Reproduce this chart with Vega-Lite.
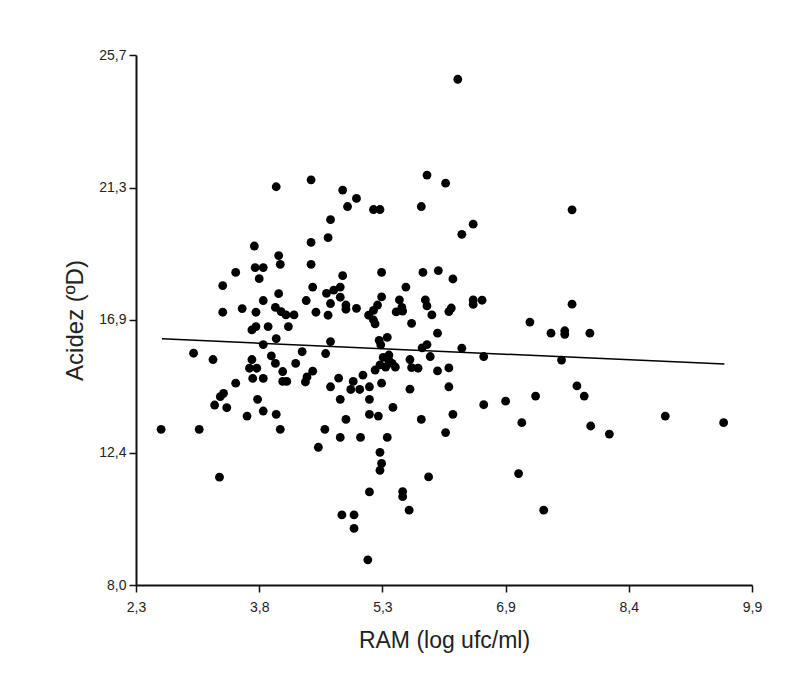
{
  "$schema": "https://vega.github.io/schema/vega-lite/v6.json",
  "autosize": "none",
  "width": 616,
  "height": 530,
  "padding": {"left": 136, "top": 55, "right": 38, "bottom": 105},
  "background": "white",
  "config": {
    "view": {"stroke": null},
    "font": "Liberation Sans",
    "axis": {
      "grid": false,
      "domainColor": "#111",
      "domainWidth": 2,
      "tickColor": "#111",
      "tickWidth": 1.5,
      "tickSize": 7,
      "labelFont": "Liberation Sans",
      "labelFontSize": 14,
      "labelColor": "#222",
      "titleFont": "Liberation Sans",
      "titleFontWeight": "normal",
      "titleColor": "#222",
      "labelFlush": false,
      "labelOverlap": false
    }
  },
  "datasets": {
    "pts": [
      {"ram": 6.27, "acidez": 24.89}, {"ram": 4.03, "acidez": 21.30}, {"ram": 4.46, "acidez": 21.53}, {"ram": 4.85, "acidez": 21.19},
      {"ram": 5.02, "acidez": 20.91}, {"ram": 4.91, "acidez": 20.64}, {"ram": 5.23, "acidez": 20.54}, {"ram": 5.31, "acidez": 20.54},
      {"ram": 4.70, "acidez": 20.20}, {"ram": 4.67, "acidez": 19.60}, {"ram": 4.46, "acidez": 19.44}, {"ram": 3.76, "acidez": 19.32},
      {"ram": 4.06, "acidez": 19.00}, {"ram": 4.08, "acidez": 18.71}, {"ram": 4.46, "acidez": 18.71}, {"ram": 3.53, "acidez": 18.44},
      {"ram": 3.77, "acidez": 18.60}, {"ram": 3.87, "acidez": 18.60}, {"ram": 3.82, "acidez": 18.23}, {"ram": 5.33, "acidez": 18.44},
      {"ram": 4.85, "acidez": 18.33}, {"ram": 3.37, "acidez": 18.00}, {"ram": 4.48, "acidez": 17.95}, {"ram": 4.06, "acidez": 17.73},
      {"ram": 4.65, "acidez": 17.74}, {"ram": 4.74, "acidez": 17.85}, {"ram": 4.82, "acidez": 17.95}, {"ram": 4.82, "acidez": 17.61},
      {"ram": 5.33, "acidez": 17.62}, {"ram": 5.89, "acidez": 21.69}, {"ram": 6.12, "acidez": 21.42}, {"ram": 5.82, "acidez": 20.64},
      {"ram": 6.46, "acidez": 20.05}, {"ram": 6.32, "acidez": 19.71}, {"ram": 7.68, "acidez": 20.53}, {"ram": 5.84, "acidez": 18.44},
      {"ram": 6.03, "acidez": 18.50}, {"ram": 6.21, "acidez": 18.22}, {"ram": 5.63, "acidez": 17.95}, {"ram": 3.87, "acidez": 17.50},
      {"ram": 4.40, "acidez": 17.50}, {"ram": 4.70, "acidez": 17.40}, {"ram": 4.89, "acidez": 17.35}, {"ram": 4.89, "acidez": 17.21},
      {"ram": 5.02, "acidez": 17.24}, {"ram": 5.28, "acidez": 17.35}, {"ram": 5.23, "acidez": 17.17}, {"ram": 5.17, "acidez": 17.01},
      {"ram": 5.23, "acidez": 16.85}, {"ram": 5.25, "acidez": 16.72}, {"ram": 3.37, "acidez": 17.11}, {"ram": 3.61, "acidez": 17.23},
      {"ram": 3.78, "acidez": 17.11}, {"ram": 4.02, "acidez": 17.27}, {"ram": 4.09, "acidez": 17.13}, {"ram": 4.15, "acidez": 17.02},
      {"ram": 4.25, "acidez": 17.02}, {"ram": 4.52, "acidez": 17.11}, {"ram": 4.67, "acidez": 17.01}, {"ram": 5.51, "acidez": 17.12},
      {"ram": 5.55, "acidez": 17.52}, {"ram": 5.59, "acidez": 17.15}, {"ram": 5.58, "acidez": 17.27}, {"ram": 5.87, "acidez": 17.52},
      {"ram": 5.89, "acidez": 17.32}, {"ram": 5.95, "acidez": 17.02}, {"ram": 6.16, "acidez": 17.13}, {"ram": 6.19, "acidez": 17.25},
      {"ram": 6.46, "acidez": 17.52}, {"ram": 6.46, "acidez": 17.37}, {"ram": 6.57, "acidez": 17.51}, {"ram": 7.68, "acidez": 17.38},
      {"ram": 5.70, "acidez": 16.74}, {"ram": 7.16, "acidez": 16.78}, {"ram": 3.73, "acidez": 16.52}, {"ram": 3.78, "acidez": 16.63},
      {"ram": 3.93, "acidez": 16.63}, {"ram": 4.18, "acidez": 16.63}, {"ram": 3.87, "acidez": 16.03}, {"ram": 4.03, "acidez": 16.23},
      {"ram": 4.70, "acidez": 16.13}, {"ram": 5.30, "acidez": 16.17}, {"ram": 5.40, "acidez": 16.27}, {"ram": 5.32, "acidez": 16.02},
      {"ram": 6.02, "acidez": 16.41}, {"ram": 5.83, "acidez": 15.92}, {"ram": 5.89, "acidez": 16.03}, {"ram": 6.32, "acidez": 15.91},
      {"ram": 7.42, "acidez": 16.41}, {"ram": 7.59, "acidez": 16.49}, {"ram": 7.59, "acidez": 16.37}, {"ram": 7.90, "acidez": 16.41},
      {"ram": 3.01, "acidez": 15.74}, {"ram": 3.25, "acidez": 15.53}, {"ram": 3.73, "acidez": 15.53}, {"ram": 3.70, "acidez": 15.24},
      {"ram": 3.79, "acidez": 15.24}, {"ram": 3.97, "acidez": 15.65}, {"ram": 4.02, "acidez": 15.40}, {"ram": 4.35, "acidez": 15.79},
      {"ram": 4.27, "acidez": 15.40}, {"ram": 4.64, "acidez": 15.73}, {"ram": 4.11, "acidez": 15.13}, {"ram": 4.48, "acidez": 15.14},
      {"ram": 4.41, "acidez": 14.95}, {"ram": 4.39, "acidez": 14.78}, {"ram": 3.74, "acidez": 14.90}, {"ram": 3.87, "acidez": 14.90},
      {"ram": 4.11, "acidez": 14.80}, {"ram": 4.16, "acidez": 14.80}, {"ram": 3.53, "acidez": 14.74}, {"ram": 4.80, "acidez": 14.91},
      {"ram": 4.70, "acidez": 14.62}, {"ram": 4.98, "acidez": 14.80}, {"ram": 4.95, "acidez": 14.53}, {"ram": 5.06, "acidez": 14.53},
      {"ram": 5.10, "acidez": 15.01}, {"ram": 5.18, "acidez": 14.62}, {"ram": 5.35, "acidez": 15.60}, {"ram": 5.42, "acidez": 15.68},
      {"ram": 5.46, "acidez": 15.40}, {"ram": 5.31, "acidez": 15.35}, {"ram": 5.38, "acidez": 15.28}, {"ram": 5.50, "acidez": 15.28},
      {"ram": 5.25, "acidez": 15.18}, {"ram": 5.42, "acidez": 15.50}, {"ram": 5.68, "acidez": 15.53}, {"ram": 5.70, "acidez": 15.26},
      {"ram": 5.78, "acidez": 15.24}, {"ram": 5.93, "acidez": 15.63}, {"ram": 6.02, "acidez": 15.15}, {"ram": 6.16, "acidez": 15.25},
      {"ram": 6.59, "acidez": 15.63}, {"ram": 7.55, "acidez": 15.51}, {"ram": 5.33, "acidez": 14.74}, {"ram": 3.38, "acidez": 14.40},
      {"ram": 3.34, "acidez": 14.29}, {"ram": 3.27, "acidez": 14.01}, {"ram": 3.42, "acidez": 13.92}, {"ram": 3.80, "acidez": 14.20},
      {"ram": 3.87, "acidez": 13.81}, {"ram": 3.67, "acidez": 13.64}, {"ram": 4.03, "acidez": 13.70}, {"ram": 4.82, "acidez": 14.20},
      {"ram": 5.18, "acidez": 14.20}, {"ram": 5.18, "acidez": 13.70}, {"ram": 5.29, "acidez": 13.64}, {"ram": 5.47, "acidez": 13.93},
      {"ram": 4.89, "acidez": 13.53}, {"ram": 2.61, "acidez": 13.20}, {"ram": 3.08, "acidez": 13.20}, {"ram": 4.08, "acidez": 13.20},
      {"ram": 4.63, "acidez": 13.20}, {"ram": 4.82, "acidez": 12.93}, {"ram": 5.07, "acidez": 12.93}, {"ram": 5.40, "acidez": 12.93},
      {"ram": 4.55, "acidez": 12.60}, {"ram": 5.68, "acidez": 14.54}, {"ram": 6.16, "acidez": 14.62}, {"ram": 5.82, "acidez": 13.53},
      {"ram": 6.21, "acidez": 13.70}, {"ram": 6.12, "acidez": 13.09}, {"ram": 6.59, "acidez": 14.02}, {"ram": 6.86, "acidez": 14.14},
      {"ram": 7.23, "acidez": 14.31}, {"ram": 7.74, "acidez": 14.65}, {"ram": 7.83, "acidez": 14.31}, {"ram": 7.06, "acidez": 13.42},
      {"ram": 7.91, "acidez": 13.31}, {"ram": 8.14, "acidez": 13.04}, {"ram": 8.83, "acidez": 13.64}, {"ram": 9.55, "acidez": 13.42},
      {"ram": 5.31, "acidez": 12.43}, {"ram": 5.33, "acidez": 12.06}, {"ram": 5.31, "acidez": 11.83}, {"ram": 3.33, "acidez": 11.60},
      {"ram": 5.18, "acidez": 11.11}, {"ram": 4.84, "acidez": 10.34}, {"ram": 4.99, "acidez": 10.34}, {"ram": 4.99, "acidez": 9.89},
      {"ram": 5.16, "acidez": 8.84}, {"ram": 5.91, "acidez": 11.61}, {"ram": 5.59, "acidez": 11.12}, {"ram": 5.59, "acidez": 10.95},
      {"ram": 5.67, "acidez": 10.50}, {"ram": 7.02, "acidez": 11.72}, {"ram": 7.33, "acidez": 10.50}
    ],
    "fit": [
      {"ram": 2.62, "acidez": 16.22},
      {"ram": 9.56, "acidez": 15.38}
    ]
  },
  "layer": [
    {
      "data": {"name": "pts"},
      "mark": {"type": "circle", "size": 78, "color": "black", "opacity": 1},
      "encoding": {
        "x": {
          "field": "ram", "type": "quantitative",
          "scale": {"domain": [2.3, 9.9], "nice": false, "zero": false},
          "axis": {
            "title": "RAM (log ufc/ml)",
            "titleFontSize": 23,
            "titleX": 308,
            "titleY": 62,
            "titleBaseline": "alphabetic",
            "titleAlign": "center",
            "values": [2.3, 3.82, 5.34, 6.86, 8.38, 9.9],
            "labelExpr": "replace(format(datum.value, '.1f'), '.', ',')",
            "labelPadding": 8
          }
        },
        "y": {
          "field": "acidez", "type": "quantitative",
          "scale": {"domain": [8.0, 25.7], "nice": false, "zero": false},
          "axis": {
            "title": "Acidez (ºD)",
            "titleFontSize": 24,
            "titleX": -54,
            "titleY": 265,
            "titleAngle": -90,
            "titleBaseline": "alphabetic",
            "titleAlign": "center",
            "values": [8.0, 12.425, 16.851, 21.275, 25.7],
            "labelExpr": "replace(format(datum.value, '.1f'), '.', ',')",
            "labelPadding": 3
          }
        }
      }
    },
    {
      "data": {"name": "fit"},
      "mark": {"type": "line", "color": "black", "strokeWidth": 1.5},
      "encoding": {
        "x": {"field": "ram", "type": "quantitative"},
        "y": {"field": "acidez", "type": "quantitative"}
      }
    }
  ]
}
